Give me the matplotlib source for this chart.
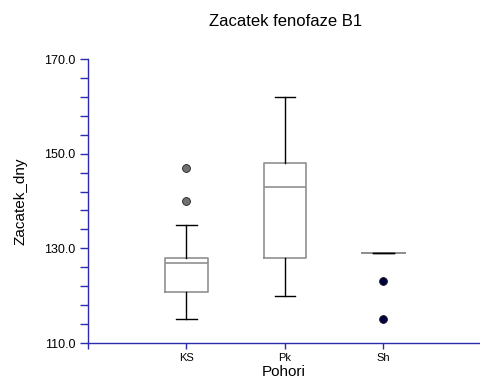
import matplotlib
matplotlib.use("Agg")
import matplotlib.pyplot as plt

plt.rcParams["font.family"] = ["Liberation Sans", "DejaVu Sans"]

# categories and box statistics
groups = ["KS", "Pk", "Sh"]
q1 = [120.8, 128.0, 129.0]
med = [126.9, 142.9, 129.0]
q3 = [128.0, 148.0, 129.0]
whislo = [115.0, 120.0, 129.0]
whishi = [135.0, 162.0, 129.0]
outliers = [[140.0, 147.0], [], [115.0, 123.0]]
outlier_colors = ["#707070", None, "#000040"]

axis_color = "#2b2bb0"

stats = []
for i, name in enumerate(groups):
    stats.append({
        "label": name, "q1": q1[i], "med": med[i], "q3": q3[i],
        "whislo": whislo[i], "whishi": whishi[i], "fliers": [],
    })

fig = plt.figure(figsize=(4.8, 3.8), dpi=100)
ax = fig.add_axes([88 / 480, 1 - 343 / 380, 1 - 88 / 480, (343 - 59) / 380])

positions = [1, 2, 3]
ax.bxp(stats, positions=positions, widths=0.43, showfliers=False,
       boxprops=dict(color="#909090", linewidth=1.2),
       medianprops=dict(color="#909090", linewidth=1.2),
       whiskerprops=dict(color="black", linewidth=1.0),
       capprops=dict(color="black", linewidth=1.0, zorder=4),
       capwidths=0.21)

for pos, pts, col in zip(positions, outliers, outlier_colors):
    if pts:
        ax.scatter([pos] * len(pts), pts, s=32, color=col,
                   edgecolors="#202020", linewidths=0.6, zorder=3)

ax.set_xlim(0, 3.98)
ax.set_ylim(110, 170)
ax.set_xticks([0] + positions)
ax.set_xticklabels([""] + groups, fontsize=8)
ax.set_yticks([110, 130, 150, 170])
ax.set_yticklabels(["110.0", "130.0", "150.0", "170.0"], fontsize=9)
ax.set_yticks(range(110, 171, 4), minor=True)

for side in ["top", "right"]:
    ax.spines[side].set_visible(False)
for side in ["left", "bottom"]:
    ax.spines[side].set_color(axis_color)
    ax.spines[side].set_linewidth(1.0)

ax.tick_params(axis="y", which="both", direction="out", length=6,
               color=axis_color, width=1.0, pad=3)
ax.tick_params(axis="x", direction="out", length=4, color=axis_color,
               width=1.0, pad=3)

ax.set_ylabel("Zacatek_dny", fontsize=11, labelpad=12)
ax.set_xlabel("Pohori", fontsize=11, labelpad=2)
fig.text(0.595, 1 - 22 / 380, "Zacatek fenofaze B1", fontsize=12,
         ha="center", va="center")

fig.savefig("out.png", dpi=100)
